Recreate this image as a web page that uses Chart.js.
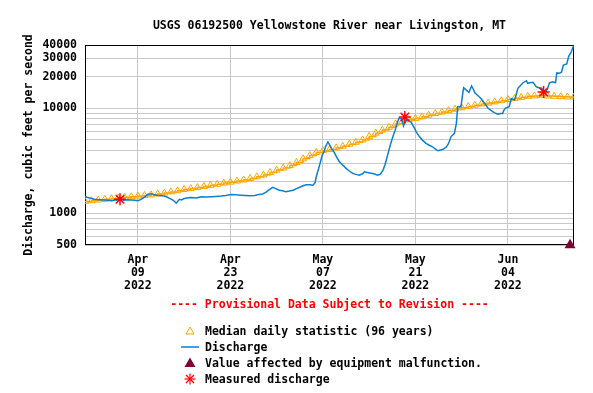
<!DOCTYPE html>
<html lang="en">
<head>
<meta charset="UTF-8" />
<title>USGS 06192500 Yellowstone River near Livingston, MT</title>
<script src="https://cdn.jsdelivr.net/npm/chart.js"></script>
<style>
    body { margin: 0; background: #fff; }
    #wrap { position: relative; width: 593px; height: 393px; font: bold 11.5px "DejaVu Sans Mono", monospace; color: #000; }
    #chart { position: absolute; left: 0; top: 0; }
    .txt { position: absolute; white-space: pre; line-height: 14px; }
    #title { left: 85px; width: 489px; top: 18px; text-align: center; }
    #provisional { left: 85px; width: 489px; top: 297px; text-align: center; color: #f00; }
    #legend { position: absolute; left: 180px; top: 322.5px; line-height: 14px; }
    .row { height: 16.1px; display: flex; align-items: center; white-space: nowrap; }
    .row svg { width: 20px; height: 14px; margin-right: 5px; flex: none; }
</style>
</head>
<body>
<div id="wrap">
    <canvas id="chart" width="593" height="393"></canvas>
    <div id="title" class="txt">USGS 06192500 Yellowstone River near Livingston, MT</div>
    <div id="provisional" class="txt">---- Provisional Data Subject to Revision ----</div>
    <div id="legend"><div class="row"><svg viewBox="0 0 20 14"><polygon points="10,3 14,10 6,10" fill="none" stroke="#ffa500" stroke-width="1"/></svg>Median daily statistic (96 years)</div><div class="row"><svg viewBox="0 0 20 14"><line x1="1" y1="7" x2="19" y2="7" stroke="#0a80d0" stroke-width="1.5"/></svg>Discharge</div><div class="row"><svg viewBox="0 0 20 14"><polygon points="10,1.5 15.5,11 4.5,11" fill="#7f0037"/></svg>Value affected by equipment malfunction.</div><div class="row"><svg viewBox="0 0 20 14"><g stroke="#f00" stroke-width="1.2"><line x1="10" y1="1.5" x2="10" y2="12.5"/><line x1="4.5" y1="7" x2="15.5" y2="7"/><line x1="6" y1="3" x2="14" y2="11"/><line x1="14" y1="3" x2="6" y2="11"/></g></svg>Measured discharge</div></div>
</div>

<script>
    // days counted from Apr 01 2022 00:00
    const xTickDays = [8, 22, 36, 50, 64];
    const xTickLabels = [
        ['Apr', '09', '2022'],
        ['Apr', '23', '2022'],
        ['May', '07', '2022'],
        ['May', '21', '2022'],
        ['Jun', '04', '2022']
    ];
    const yGridValues = [500, 600, 700, 800, 900, 1000, 2000, 3000, 4000, 5000, 6000, 7000, 8000, 9000, 10000, 20000, 30000, 40000];
    const yLabelValues = [500, 1000, 10000, 20000, 30000, 40000];

    // median daily statistic, one per day
    const medianValues = [
        1300, 1320, 1340, 1360, 1380, 1400, 1420, 1440, 1460, 1480,
        1500, 1530, 1560, 1600, 1640, 1690, 1720, 1760, 1800, 1850,
        1890, 1940, 1980, 2030, 2080, 2150, 2230, 2320, 2450, 2580,
        2700, 2850, 3050, 3300, 3550, 3800, 3950, 4050, 4200, 4350,
        4550, 4750, 5000, 5400, 5800, 6200, 6600, 7100, 7500, 7800,
        8000, 8300, 8600, 8900, 9200, 9500, 9800, 10100, 10400, 10700,
        11000, 11200, 11500, 11800, 12100, 12400, 12700, 13000, 13100, 13200,
        13100, 13000, 12900, 12800, 12800
    ];

    const dischargeDays = [
        0.0, 0.7, 1.4, 2.2, 2.9, 3.5, 4.0, 4.6, 5.3, 6.0, 6.5, 7.0, 7.6, 8.0, 8.4, 8.75, 9.2, 9.5, 10.0, 10.4,
        10.75, 11.3, 12.0, 12.4, 12.8, 13.3, 13.6, 13.8, 14.0, 14.3, 14.6, 15.0, 15.5, 16.0, 16.8, 17.6, 18.3, 19.1, 19.8, 20.6,
        21.3, 22.1, 22.8, 23.6, 24.3, 24.9, 25.7, 26.3, 26.9, 27.4, 27.9, 28.4, 28.7, 29.4, 29.9, 30.4, 30.9, 31.5, 32.0, 32.5,
        33.0, 33.5, 34.0, 34.5, 34.8, 35.0, 35.3, 35.5, 35.7, 35.9, 36.2, 36.4, 36.75, 37.0, 37.3, 37.5, 37.8, 38.1, 38.5, 39.0,
        39.5, 40.0, 40.5, 41.0, 41.5, 42.0, 42.3, 42.7, 43.1, 43.7, 44.3, 44.7, 45.1, 45.4, 45.6, 45.8, 46.0, 46.3, 46.6, 46.9,
        47.1, 47.3, 47.5, 47.8, 48.0, 48.2, 48.4, 48.6, 48.9, 49.1, 49.4, 49.6, 49.9, 50.1, 50.6, 51.1, 51.6, 52.1, 52.6, 53.0,
        53.4, 53.8, 54.2, 54.7, 55.0, 55.4, 55.9, 56.2, 56.4, 56.9, 57.1, 57.3, 57.7, 58.1, 58.5, 58.8, 59.0, 59.4, 59.7, 60.1,
        60.5, 61.0, 61.4, 61.7, 62.1, 62.5, 62.9, 63.2, 63.4, 63.6, 64.2, 64.5, 65.0, 65.3, 65.5, 65.9, 66.3, 66.8, 67.0, 67.3,
        67.8, 68.3, 68.7, 69.1, 69.5, 69.8, 70.0, 70.3, 70.8, 71.2, 71.4, 71.8, 72.1, 72.4, 72.9, 73.2, 73.6, 73.8, 73.95
    ];
    const dischargeValues = [
        1440, 1400, 1360, 1350, 1340, 1330, 1320, 1340, 1350, 1330, 1345, 1340, 1330, 1320, 1350, 1390, 1460, 1520, 1540, 1510,
        1490, 1480, 1460, 1430, 1390, 1340, 1290, 1250, 1300, 1360, 1340, 1385, 1400, 1415, 1400, 1440, 1430, 1440, 1450, 1460,
        1480, 1515, 1500, 1490, 1480, 1470, 1480, 1510, 1530, 1590, 1680, 1770, 1740, 1660, 1640, 1610, 1630, 1660, 1720, 1770,
        1830, 1870, 1870, 1850, 1950, 2230, 2600, 2880, 3200, 3590, 3900, 4300, 4780, 4500, 4150, 4000, 3720, 3400, 3100, 2880,
        2680, 2530, 2400, 2350, 2310, 2380, 2490, 2450, 2420, 2380, 2310, 2360, 2580, 2900, 3220, 3600, 4020, 4700, 5380, 6100,
        6680, 7400, 8020, 8000, 7850, 6800, 7300, 7700, 7750, 7600, 7300, 6900, 6400, 6000, 5380, 4950, 4640, 4450, 4300, 4100,
        3940, 4000, 4070, 4300, 4600, 5380, 5770, 7190, 10350, 10350, 13000, 15700, 14900, 14200, 16300, 15000, 14000, 13300, 12800, 12000,
        11100, 10000, 9600, 9270, 9000, 8800, 8900, 8900, 9600, 10000, 10350, 12400, 12000, 13800, 15500, 16500, 17500, 18300, 17300, 17500,
        17700, 16000, 15700, 15500, 14300, 14600, 15500, 17500, 17900, 17500, 21700, 21500, 22000, 25800, 26400, 31200, 34500, 37500, 39500
    ];

    const measuredDays = [5.3, 48.4, 69.4];
    const measuredValues = [1360, 8250, 14300];

    const malfunctionDays = [73.4];
    const malfunctionValues = [500];

    const FONT = { family: '"DejaVu Sans Mono", monospace', size: 11.5, weight: 'bold' };
    const pts = (xs, ys) => xs.map((x, i) => ({ x: x, y: ys[i] }));

    // black frame round the plot area
    const framePlugin = {
        id: 'frame',
        beforeDatasetsDraw(chart) {
            const a = chart.chartArea, ctx = chart.ctx;
            ctx.save();
            ctx.strokeStyle = '#000';
            ctx.lineWidth = 1;
            ctx.strokeRect(Math.round(a.left) + 0.5, Math.round(a.top) + 0.5, Math.round(a.right - a.left) - 1, Math.round(a.bottom - a.top) - 1);
            ctx.restore();
        }
    };

    new Chart(document.getElementById('chart'), {
        type: 'line',
        data: {
            datasets: [
                {
                    label: 'Value affected by equipment malfunction.',
                    type: 'scatter',
                    data: pts(malfunctionDays, malfunctionValues),
                    pointStyle: 'triangle',
                    pointRadius: 6.3,
                    backgroundColor: '#7f0037',
                    borderColor: '#7f0037',
                    borderWidth: 0,
                    clip: false,
                    order: 0
                },
                {
                    label: 'Measured discharge',
                    type: 'scatter',
                    data: pts(measuredDays, measuredValues),
                    pointStyle: 'star',
                    pointRadius: 6,
                    borderColor: '#f00',
                    backgroundColor: '#f00',
                    borderWidth: 1.5,
                    order: 1
                },
                {
                    label: 'Discharge',
                    data: pts(dischargeDays, dischargeValues),
                    borderColor: '#0a80d0',
                    borderWidth: 1.5,
                    pointRadius: 0,
                    tension: 0,
                    order: 2
                },
                {
                    label: 'Median daily statistic (96 years)',
                    data: medianValues.map((v, i) => ({ x: i, y: v })),
                    borderColor: '#ffa500',
                    borderWidth: 1.5,
                    stepped: true,
                    pointStyle: 'triangle',
                    pointRadius: 4,
                    pointBorderColor: '#ffa500',
                    pointBackgroundColor: 'rgba(0,0,0,0)',
                    pointBorderWidth: 1,
                    order: 3
                }
            ]
        },
        options: {
            responsive: false,
            animation: false,
            events: [],
            layout: { padding: { left: 0, right: 19, top: 45, bottom: 0 } },
            plugins: {
                legend: { display: false },
                tooltip: { enabled: false }
            },
            scales: {
                x: {
                    type: 'linear',
                    min: 0,
                    max: 74,
                    afterBuildTicks: s => { s.ticks = xTickDays.map(v => ({ value: v })); },
                    afterFit: s => { s.height = 148; },
                    grid: { color: '#c8c8c8', lineWidth: 1, drawTicks: false },
                    border: { display: false },
                    ticks: {
                        color: '#000',
                        font: Object.assign({ lineHeight: '13px' }, FONT),
                        padding: 9,
                        maxRotation: 0,
                        autoSkip: false,
                        callback: (v, i) => xTickLabels[i]
                    }
                },
                y: {
                    type: 'logarithmic',
                    min: 500,
                    max: 40000,
                    afterBuildTicks: s => { s.ticks = yGridValues.map(v => ({ value: v })); },
                    afterFit: s => { s.width = 85; },
                    grid: { color: '#c8c8c8', lineWidth: 1, drawTicks: false },
                    border: { display: false },
                    title: {
                        display: true,
                        text: 'Discharge, cubic feet per second',
                        color: '#000',
                        font: FONT,
                        padding: { top: 22, bottom: 0 }
                    },
                    ticks: {
                        color: '#000',
                        font: FONT,
                        padding: 8,
                        autoSkip: false,
                        callback: v => yLabelValues.includes(v) ? String(v) : ''
                    }
                }
            }
        },
        plugins: [framePlugin]
    });
</script>
</body>
</html>
